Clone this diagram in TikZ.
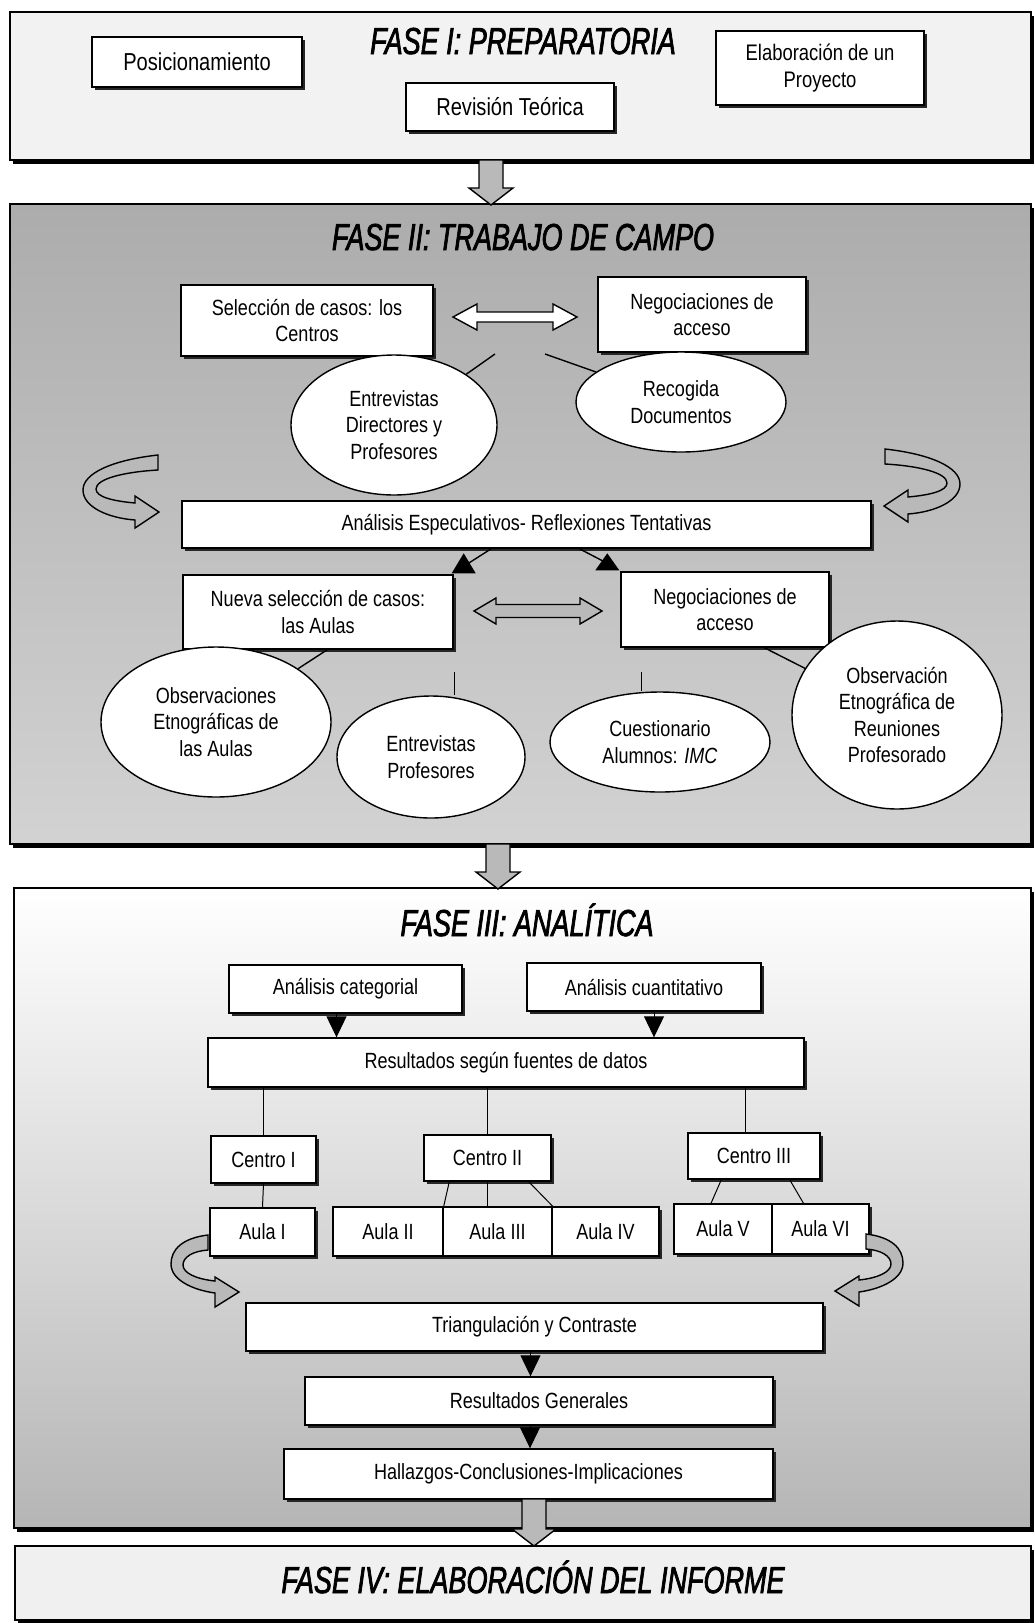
\documentclass[tikz,border=0pt]{standalone}
\usepackage{fontspec}
\setmainfont{Liberation Sans}[FakeStretch=0.82]
\newfontfamily\ttlfont{Liberation Sans}[FakeStretch=0.72,FakeBold=2]
\usetikzlibrary{shapes.geometric,arrows.meta,calc,shadows}
\newcommand\txtsz{\fontsize{22}{26.5}\selectfont}
\newcommand\bigsz{\fontsize{24.5}{28}\selectfont}
% vertical block arrow: x, ytop, ytip
\newcommand\dnarr[3]{%
  \draw[blk] (#1-12,#2) -- (#1+12,#2) -- (#1+12,#3-17) -- (#1+22,#3-17) -- (#1,#3)
     -- (#1-22,#3-17) -- (#1-12,#3-17) -- cycle;}
% horizontal double block arrow: x1, x2, y, head length, head half, shaft half, style
\newcommand\dblarr[7]{%
  \draw[#7] (#1,#3) -- (#1+#4,#3-#5) -- (#1+#4,#3-#6) -- (#2-#4,#3-#6) -- (#2-#4,#3-#5)
     -- (#2,#3) -- (#2-#4,#3+#5) -- (#2-#4,#3+#6) -- (#1+#4,#3+#6) -- (#1+#4,#3+#5) -- cycle;}
% curved U-turn arrow, large: origin = tail top corner, xscale
\newcommand\cvarrA[3]{%
  \begin{scope}[shift={(#1,#2)},xscale=#3]
  \draw[blk] (0,0) .. controls (-45,5) and (-75,18) .. (-75,35)
     .. controls (-75,52) and (-50,63) .. (-23,65) -- (-23,73) -- (1,57) -- (-23,41) -- (-23,48)
     .. controls (-45,46) and (-62,42) .. (-62,34) .. controls (-62,24) and (-35,17) .. (0,15) -- cycle;
  \end{scope}}
% curved U-turn arrow, small
\newcommand\cvarrB[3]{%
  \begin{scope}[shift={(#1,#2)},xscale=#3]
  \draw[blk] (0,0) .. controls (-25,3) and (-37,14) .. (-37,29)
     .. controls (-37,45) and (-15,55) .. (7,58) -- (7,72) -- (31,57) -- (7,42) -- (7,46)
     .. controls (-12,44) and (-25,38) .. (-25,30) .. controls (-25,22) and (-15,16) .. (0,15) -- cycle;
  \end{scope}}
\begin{document}
\begin{tikzpicture}[x=1pt,y=-1pt,
  box/.style={draw, line width=1.4pt, fill=white, inner sep=0pt, align=center, font=\txtsz,
     drop shadow={shadow xshift=2.5pt,shadow yshift=-2.5pt,fill=black!85,opacity=1}},
  oval/.style={ellipse, draw, line width=1.4pt, fill=white, inner sep=0pt, align=center, font=\txtsz},
  phase/.style={draw, line width=1.4pt, inner sep=0pt,
     drop shadow={shadow xshift=3pt,shadow yshift=-4pt,fill=black,opacity=1}},
  ttl/.style={font=\ttlfont\itshape\fontsize{37.5}{40}\selectfont, inner sep=0pt},
  conn/.style={line width=1.4pt},
  lnk/.style={line width=1pt},
  arr/.style={line width=1pt, -{Triangle[length=21pt,width=20pt]}},
  blk/.style={draw, line width=1.4pt, fill=gray!55, line join=miter},
  wblk/.style={blk, fill=white},
]
\useasboundingbox (0,0) rectangle (1034,1623);
\fill[white] (0,0) rectangle (1034,1623);

% ---------- phase frames ----------
\node[phase, fill=gray!10, minimum width=1021pt, minimum height=148pt] (p1) at (520.5,86) {};
\node[phase, top color=gray!65, bottom color=gray!35, minimum width=1021pt, minimum height=640pt] (p2) at (520.5,524) {};
\node[phase, top color=white, middle color=gray!18, bottom color=gray!58, minimum width=1017pt, minimum height=640pt] (p3) at (522.5,1208) {};
\node[phase, fill=gray!12, minimum width=1016pt, minimum height=74pt] (p4) at (523,1583) {};

\node[ttl, anchor=base] (t1) at (523,54) {FASE I: PREPARATORIA};
\node[ttl, anchor=base] (t2) at (523,250) {FASE II: TRABAJO DE CAMPO};
\node[ttl, anchor=base] (t3) at (527,936) {FASE III: ANALÍTICA};
\node[ttl, anchor=base] (t4) at (533,1593) {FASE IV: ELABORACIÓN DEL INFORME};

% ---------- phase I ----------
\node[box, font=\bigsz, minimum width=210pt, minimum height=50pt] (pos) at (197,62) {Posicionamiento};
\node[box, font=\bigsz, minimum width=208pt, minimum height=48pt] (rev) at (510,107) {Revisión Teórica};
\node[box, font=\fontsize{22.5}{27}\selectfont, minimum width=208pt, minimum height=74pt] (ela) at (820,68) {Elaboración de un\\Proyecto};

% ---------- phase II ----------
\node[box, minimum width=252pt, minimum height=71pt] (sel) at (307,320.5) {Selección de casos: los\\Centros};
\node[box, minimum width=208pt, minimum height=75pt] (neg1) at (702,314.5) {Negociaciones de\\acceso};
\dblarr{453}{577}{317}{24}{13}{5}{wblk}

\node[oval, minimum width=206pt, minimum height=140pt] (entdir) at (394,425) {Entrevistas\\Directores y\\Profesores};
\node[oval, minimum width=210pt, minimum height=100pt] (recog) at (681,402) {Recogida\\Documentos};
\coordinate (c1) at (495,354);
\coordinate (c2) at (545,354);
\draw[conn] (c1) -- (entdir);
\draw[conn] (c2) -- (recog);

\node[box, minimum width=689pt, minimum height=47pt] (esp) at (526.5,524.5) {Análisis Especulativos- Reflexiones Tentativas};
\cvarrA{158}{455}{1}
\cvarrA{885}{449}{-1}

\node[box, minimum width=270pt, minimum height=74pt] (nueva) at (318,612) {Nueva selección de casos:\\las Aulas};
\node[box, minimum width=208pt, minimum height=75pt] (neg2) at (725,609.5) {Negociaciones de\\acceso};
\dblarr{474}{602}{611}{22}{13}{6.5}{blk}

% arrows from the speculative analysis box
\draw[conn] ($(esp.south west)+(310,0)$) -- ($(nueva.north east)+(10,-8)$);
\fill ($(nueva.north east)+(10,-21)$) -- ($(nueva.north east)+(-2,-1)$) -- ($(nueva.north east)+(22,-1)$) -- cycle;
\draw[conn] ($(esp.south west)+(398,0)$) -- ($(neg2.north west)+(-13,-8)$);
\fill ($(neg2.north west)+(-13,-18)$) -- ($(neg2.north west)+(-25,-1)$) -- ($(neg2.north west)+(-1,-1)$) -- cycle;

\node[oval, minimum width=230pt, minimum height=150pt] (obsA) at (216,722) {Observaciones\\Etnográficas de\\las Aulas};
\node[oval, minimum width=188pt, minimum height=122pt] (entprof) at (431,757) {Entrevistas\\Profesores};
\node[oval, minimum width=220pt, minimum height=100pt] (cuest) at (660,742) {Cuestionario\\Alumnos: \textit{IMC}};
\node[oval, minimum width=210pt, minimum height=188pt] (obsR) at (897,715) {Observación\\Etnográfica de\\Reuniones\\Profesorado};

\draw[conn] ($(nueva.south west)+(145,0)$) -- (obsA);
\coordinate (v1) at (454,672);
\coordinate (v2) at (641,672);
\draw[lnk] (v1) -- (v1 |- entprof.north);
\draw[lnk] (v2) -- (v2 |- cuest.north);
\draw[conn] ($(neg2.south west)+(144,0)$) -- (obsR);

% ---------- phase III ----------
\node[box, minimum width=233pt, minimum height=48pt] (cat) at (345.5,989) {Análisis categorial};
\node[box, minimum width=234pt, minimum height=48pt] (cuan) at (644,987) {Análisis cuantitativo};
\node[box, minimum width=596pt, minimum height=49pt] (res) at (506,1062.5) {Resultados según fuentes de datos};
\coordinate (ca) at ($(cat.south)+(-9,0)$);
\coordinate (cb) at ($(cuan.south)+(10,0)$);
\draw[arr] (ca) -- (ca |- res.north);
\draw[arr] (cb) -- (cb |- res.north);

\node[box, minimum width=105pt, minimum height=47pt] (cI) at (263.5,1159.5) {Centro I};
\node[box, minimum width=127pt, minimum height=46pt] (cII) at (487.5,1158) {Centro II};
\node[box, minimum width=132pt, minimum height=46pt] (cIII) at (754,1156) {Centro III};
\draw[lnk] (res.south -| cI.north) -- (cI.north);
\draw[lnk] (res.south -| cII.north) -- (cII.north);
\draw[lnk] ($(res.south -| cIII.north)+(-9,0)$) -- ($(cIII.north)+(-9,0)$);

\node[box, minimum width=105pt, minimum height=48pt] (aI) at (262.5,1232) {Aula I};
\node[box, minimum width=110pt, minimum height=49pt] (aII) at (388,1231.5) {Aula II};
\node[box, minimum width=109pt, minimum height=49pt] (aIII) at (497.5,1231.5) {Aula III};
\node[box, minimum width=107pt, minimum height=49pt] (aIV) at (605.5,1231.5) {Aula IV};
\node[box, minimum width=98pt, minimum height=50pt] (aV) at (723,1229) {Aula V};
\node[box, minimum width=97pt, minimum height=50pt] (aVI) at (820.5,1229) {Aula VI};

\draw[lnk] (cI.south) -- (aI.north);
\draw[lnk] ($(cII.south west)+(26,0)$) -- (aII.north east);
\draw[lnk] (cII.south) -- (cII.south |- aIII.north);
\draw[lnk] ($(cII.south east)+(-23,0)$) -- (aIII.north east);
\draw[lnk] ($(cIII.south west)+(34,0)$) -- ($(aV.north)+(-12,0)$);
\draw[lnk] ($(cIII.south east)+(-31,0)$) -- ($(aVI.north)+(-17,0)$);

\cvarrB{208}{1235}{1}
\cvarrB{866}{1234}{-1}

\node[box, minimum width=577pt, minimum height=48pt] (tri) at (534.5,1327) {Triangulación y Contraste};
\node[box, minimum width=468pt, minimum height=48pt] (resg) at (539,1401) {Resultados Generales};
\node[box, minimum width=489pt, minimum height=50pt] (hall) at (528.5,1474) {Hallazgos-Conclusiones-Implicaciones};
\coordinate (ct) at ($(tri.south)+(-4,0)$);
\draw[arr] (ct) -- (ct |- resg.north);
\coordinate (cr) at ($(resg.south)+(-9,0)$);
\draw[arr] (cr) -- (cr |- hall.north);

% ---------- phase transitions ----------
\dnarr{491}{160}{205}
\dnarr{498}{844}{889}
\dnarr{534}{1499}{1546}
\end{tikzpicture}
\end{document}
